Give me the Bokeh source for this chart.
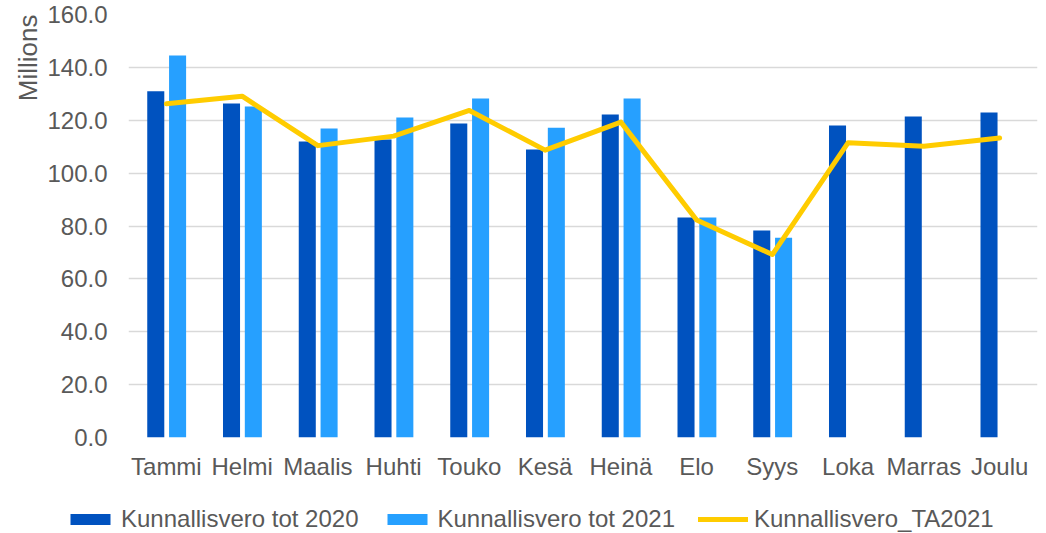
from bokeh.plotting import figure
from bokeh.models import (ColumnDataSource, FactorRange, Range1d, Legend, LegendItem,
                          Title, NumeralTickFormatter, FixedTicker)
from bokeh.transform import dodge
from bokeh.embed import file_html
from bokeh.resources import INLINE

months = ["Tammi", "Helmi", "Maalis", "Huhti", "Touko", "Kesä", "Heinä",
          "Elo", "Syys", "Loka", "Marras", "Joulu"]
vero_2020 = [131.0, 126.3, 112.0, 112.7, 118.8, 108.9, 122.2, 83.2, 78.3, 118.0, 121.4, 122.9]
vero_2021 = [144.5, 125.2, 116.9, 121.0, 128.2, 117.2, 128.2, 83.2, 75.6, None, None, None]
vero_ta2021 = [126.2, 129.1, 110.4, 114.0, 123.7, 108.7, 119.3, 82.3, 69.2, 111.5, 110.2, 113.3]
series_names = ["Kunnallisvero tot 2020", "Kunnallisvero tot 2021", "Kunnallisvero_TA2021"]

FONT = "Liberation Sans"
TXT = "#595959"
C2020 = "#0052BF"
C2021 = "#26A0FF"
CTA = "#FFCC00"

src = ColumnDataSource(dict(
    m=months,
    v20=vero_2020,
    v21=[float("nan") if v is None else v for v in vero_2021],
    ta=vero_ta2021,
))


def add_series(fig):
    a = fig.vbar(x=dodge("m", -0.14, range=fig.x_range), top="v20", width=0.225, source=src,
                 color=C2020, line_color=None)
    b = fig.vbar(x=dodge("m", 0.148, range=fig.x_range), top="v21", width=0.225, source=src,
                 color=C2021, line_color=None)
    c = fig.line(x="m", y="ta", source=src, line_color=CTA, line_width=5,
                 line_cap="round", line_join="round")
    return a, b, c


p = figure(width=1040, height=493, x_range=FactorRange(*months, range_padding=0),
           y_range=Range1d(0, 160), output_backend="svg", toolbar_location=None,
           min_border_left=128, min_border_right=3, min_border_top=14, min_border_bottom=56)
p.outline_line_color = None
p.background_fill_color = "white"
p.border_fill_color = "white"
add_series(p)

p.xgrid.grid_line_color = None
p.ygrid.grid_line_color = "#D9D9D9"
p.ygrid.grid_line_width = 1.5
p.yaxis.ticker = FixedTicker(ticks=[0, 20, 40, 60, 80, 100, 120, 140, 160])
p.yaxis.formatter = NumeralTickFormatter(format="0.0")
for ax in (p.xaxis[0], p.yaxis[0]):
    ax.axis_line_color = None
    ax.major_tick_line_color = None
    ax.minor_tick_line_color = None
    ax.major_tick_out = 0
    ax.major_tick_in = 0
    ax.major_label_text_font = FONT
    ax.major_label_text_font_size = "24px"
    ax.major_label_text_color = TXT
p.yaxis.major_label_standoff = 21
p.xaxis.major_label_standoff = 15

p.add_layout(Title(text="Millions", align="right", text_font=FONT, text_font_size="26px",
                   text_font_style="normal", text_color=TXT, standoff=4), "left")

# legend strip below the chart (hidden copies of the series; only the legend shows)
lg = figure(width=1040, height=40, x_range=FactorRange(*months, range_padding=0),
            y_range=Range1d(0, 160), output_backend="svg", toolbar_location=None,
            x_axis_location=None, y_axis_location=None,
            min_border_left=0, min_border_right=0, min_border_top=0, min_border_bottom=0)
lg.grid.visible = False
lg.outline_line_color = None
lg.border_fill_color = "white"
lg.background_fill_color = "white"
e20, e21, eta = add_series(lg)
for r in (e20, e21, eta):
    r.visible = False

legend = Legend(items=[
    LegendItem(label=series_names[0], renderers=[e20]),
    LegendItem(label=series_names[1], renderers=[e21]),
    LegendItem(label=series_names[2], renderers=[eta]),
], orientation="horizontal", location=(65, 0), glyph_width=50, glyph_height=14,
    label_standoff=6, spacing=23, padding=0, margin=0, border_line_color=None,
    background_fill_alpha=0, inactive_fill_alpha=0, label_text_font=FONT,
    label_text_font_size="24px", label_text_color=TXT)
lg.add_layout(legend, "center")

open("out.html", "w").write(file_html([p, lg], INLINE))
